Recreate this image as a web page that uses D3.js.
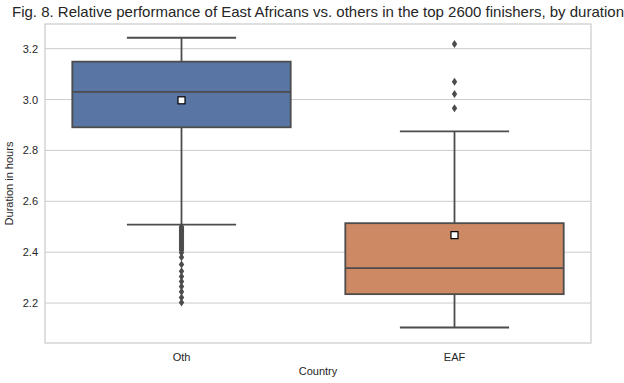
<!DOCTYPE html>
<html>
<head>
<meta charset="utf-8">
<script src="https://cdn.jsdelivr.net/npm/d3@7"></script>
<style>
  body { margin: 0; background: #fff; }
  svg { font-family: "Liberation Sans", Arial, sans-serif; }
</style>
</head>
<body>
<div id="chart"></div>
<script>
// box statistics
let categories = ['Oth', 'EAF'];
let q1 = [2.891, 2.235];
let medians = [3.030, 2.337];
let q3 = [3.149, 2.514];
let whiskerLow = [2.508, 2.104];
let whiskerHigh = [3.243, 2.875];
let means = [2.997, 2.467];
let fillColors = ['#5875a4', '#cc8963'];
let outliersOth = [2.500, 2.496, 2.492, 2.488, 2.484, 2.480, 2.476, 2.472, 2.468, 2.464,
    2.460, 2.456, 2.452, 2.448, 2.444, 2.440, 2.436, 2.432, 2.428, 2.424, 2.420, 2.416,
    2.412, 2.408, 2.398, 2.380, 2.352, 2.325, 2.304, 2.285, 2.265, 2.244, 2.222, 2.202];
let outliersEAF = [3.218, 3.070, 3.022, 2.966];
let yTicks = [2.2, 2.4, 2.6, 2.8, 3.0, 3.2];

const width = 624;
const height = 383;
const margin = {top: 24, right: 33, bottom: 40, left: 45};

const svg = d3.select('#chart').append('svg')
    .attr('width', width).attr('height', height);

const x = d3.scaleBand()
    .domain(categories)
    .range([margin.left, width - margin.right])
    .padding(0);

const y = d3.scaleLinear()
    .domain([2.043, 3.297])
    .range([height - margin.bottom, margin.top]);

// grid
svg.append('g')
    .selectAll('line').data(yTicks).enter().append('line')
    .attr('x1', margin.left).attr('x2', width - margin.right)
    .attr('y1', d => y(d)).attr('y2', d => y(d))
    .attr('stroke', '#cccccc').attr('stroke-width', 1);

// frame
svg.append('rect')
    .attr('x', margin.left).attr('y', margin.top)
    .attr('width', width - margin.left - margin.right)
    .attr('height', height - margin.top - margin.bottom)
    .attr('fill', 'none').attr('stroke', '#cccccc').attr('stroke-width', 1.25);

// y axis
const yAxis = svg.append('g')
    .attr('transform', `translate(${margin.left},0)`)
    .call(d3.axisLeft(y).tickValues(yTicks).tickSize(0).tickPadding(7).tickFormat(d3.format('.1f')));
yAxis.select('.domain').remove();
yAxis.selectAll('text').attr('font-size', 11).attr('fill', '#262626');

// x axis
const xAxis = svg.append('g')
    .attr('transform', `translate(0,${height - margin.bottom})`)
    .call(d3.axisBottom(x).tickSize(0).tickPadding(10));
xAxis.select('.domain').remove();
xAxis.selectAll('text').attr('font-size', 11).attr('fill', '#262626');

const lineColor = '#4c4c4c';
const boxW = x.bandwidth() * 0.8;
const capW = boxW / 2;

categories.forEach((c, i) => {
    const cx = x(c) + x.bandwidth() / 2;
    const g = svg.append('g');
    // whiskers
    g.append('line').attr('x1', cx).attr('x2', cx)
        .attr('y1', y(q3[i])).attr('y2', y(whiskerHigh[i]))
        .attr('stroke', lineColor).attr('stroke-width', 1.8);
    g.append('line').attr('x1', cx).attr('x2', cx)
        .attr('y1', y(q1[i])).attr('y2', y(whiskerLow[i]))
        .attr('stroke', lineColor).attr('stroke-width', 1.8);
    [whiskerHigh[i], whiskerLow[i]].forEach(v => {
        g.append('line').attr('x1', cx - capW / 2).attr('x2', cx + capW / 2)
            .attr('y1', y(v)).attr('y2', y(v))
            .attr('stroke', lineColor).attr('stroke-width', 1.8);
    });
    // box
    g.append('rect')
        .attr('x', cx - boxW / 2).attr('width', boxW)
        .attr('y', y(q3[i])).attr('height', y(q1[i]) - y(q3[i]))
        .attr('fill', fillColors[i]).attr('stroke', lineColor).attr('stroke-width', 1.8);
    // median
    g.append('line').attr('x1', cx - boxW / 2).attr('x2', cx + boxW / 2)
        .attr('y1', y(medians[i])).attr('y2', y(medians[i]))
        .attr('stroke', lineColor).attr('stroke-width', 1.8);
    // mean
    g.append('rect')
        .attr('x', cx - 3.5).attr('y', y(means[i]) - 3.5)
        .attr('width', 7).attr('height', 7)
        .attr('fill', '#fff').attr('stroke', '#000').attr('stroke-width', 1.2);
    // outliers
    const outs = i === 0 ? outliersOth : outliersEAF;
    g.selectAll('path.flier').data(outs).enter().append('path')
        .attr('class', 'flier')
        .attr('d', d => `M${cx},${y(d) - 4}L${cx + 2.7},${y(d)}L${cx},${y(d) + 4}L${cx - 2.7},${y(d)}Z`)
        .attr('fill', lineColor);
});

// labels
svg.append('text')
    .attr('x', (margin.left + width - margin.right) / 2).attr('y', 17)
    .attr('text-anchor', 'middle').attr('font-size', 15).attr('fill', '#262626')
    .text('Fig. 8. Relative performance of East Africans vs. others in the top 2600 finishers, by duration');

svg.append('text')
    .attr('x', (margin.left + width - margin.right) / 2).attr('y', 375)
    .attr('text-anchor', 'middle').attr('font-size', 11).attr('fill', '#262626')
    .text('Country');

svg.append('text')
    .attr('transform', `translate(13,${(margin.top + height - margin.bottom) / 2}) rotate(-90)`)
    .attr('text-anchor', 'middle').attr('font-size', 11).attr('fill', '#262626')
    .text('Duration in hours');
</script>
</body>
</html>
